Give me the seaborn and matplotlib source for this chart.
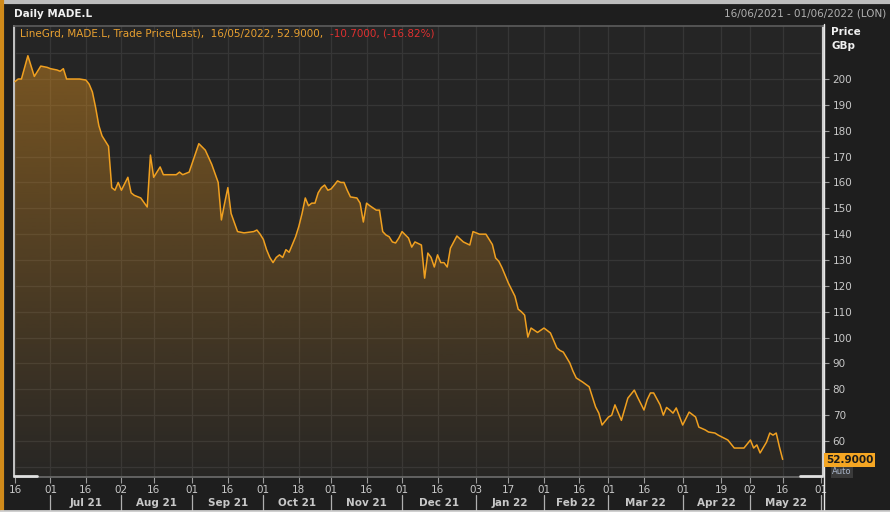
import numpy as np
import pandas as pd
import matplotlib
matplotlib.use("Agg")
import matplotlib.pyplot as plt
from matplotlib.lines import Line2D
import seaborn as sns

# ============================
# Data
# ============================

dates = [
    "2021-06-16", "2021-06-17", "2021-06-18", "2021-06-22", "2021-06-24", "2021-06-28", "2021-06-30",
    "2021-07-01", "2021-07-05", "2021-07-06", "2021-07-07", "2021-07-08", "2021-07-12", "2021-07-14",
    "2021-07-16", "2021-07-19", "2021-07-20", "2021-07-21", "2021-07-22", "2021-07-23", "2021-07-26",
    "2021-07-27", "2021-07-28", "2021-07-29", "2021-07-30",
    "2021-08-02", "2021-08-04", "2021-08-05", "2021-08-06", "2021-08-10", "2021-08-12", "2021-08-13",
    "2021-08-16", "2021-08-18", "2021-08-19", "2021-08-25", "2021-08-26", "2021-08-27", "2021-08-31",
    "2021-09-03", "2021-09-07", "2021-09-09", "2021-09-13", "2021-09-14", "2021-09-15", "2021-09-16",
    "2021-09-17", "2021-09-21", "2021-09-23", "2021-09-28", "2021-09-29", "2021-09-30",
    "2021-10-01", "2021-10-04", "2021-10-05", "2021-10-06", "2021-10-07", "2021-10-08", "2021-10-11",
    "2021-10-12", "2021-10-13", "2021-10-14", "2021-10-15", "2021-10-18", "2021-10-19", "2021-10-20",
    "2021-10-21", "2021-10-22", "2021-10-25", "2021-10-26", "2021-10-27", "2021-10-28", "2021-10-29",
    "2021-11-01", "2021-11-02", "2021-11-03", "2021-11-04", "2021-11-05", "2021-11-08", "2021-11-09",
    "2021-11-11", "2021-11-12", "2021-11-15", "2021-11-16", "2021-11-17", "2021-11-19", "2021-11-22",
    "2021-11-23", "2021-11-24", "2021-11-25", "2021-11-26", "2021-11-29", "2021-11-30",
    "2021-12-01", "2021-12-03", "2021-12-06", "2021-12-07", "2021-12-09", "2021-12-10", "2021-12-13",
    "2021-12-14", "2021-12-15", "2021-12-16", "2021-12-17", "2021-12-20", "2021-12-21", "2021-12-22",
    "2021-12-24", "2021-12-28", "2021-12-30", "2021-12-31",
    "2022-01-04", "2022-01-06", "2022-01-10", "2022-01-11", "2022-01-12", "2022-01-13", "2022-01-14",
    "2022-01-17", "2022-01-19", "2022-01-20", "2022-01-21", "2022-01-24", "2022-01-25", "2022-01-26",
    "2022-01-28",
    "2022-02-01", "2022-02-03", "2022-02-07", "2022-02-08", "2022-02-09", "2022-02-11", "2022-02-14",
    "2022-02-15", "2022-02-17", "2022-02-21", "2022-02-23", "2022-02-24", "2022-02-25",
    "2022-03-01", "2022-03-02", "2022-03-03", "2022-03-07", "2022-03-09", "2022-03-11", "2022-03-14",
    "2022-03-16", "2022-03-17", "2022-03-18", "2022-03-21", "2022-03-23", "2022-03-24", "2022-03-25",
    "2022-03-28", "2022-03-29", "2022-03-30",
    "2022-04-01", "2022-04-05", "2022-04-07", "2022-04-08", "2022-04-12", "2022-04-13", "2022-04-15",
    "2022-04-18", "2022-04-21", "2022-04-25", "2022-04-28",
    "2022-05-02", "2022-05-03", "2022-05-04", "2022-05-05", "2022-05-09", "2022-05-10", "2022-05-11",
    "2022-05-12", "2022-05-13", "2022-05-16",
]

prices = [
    199, 200, 200, 209, 201, 205, 204.5,
    204, 203.5, 203, 204, 200, 200, 200,
    199.6, 198, 195, 189, 182, 178, 176,
    174, 158, 157, 160,
    157, 162, 156, 155, 154, 150.5, 170.6,
    162, 166, 163, 163, 164, 163, 164,
    175, 172.5, 167, 160, 145.5, 152, 158,
    148, 141, 140.5, 141, 141.6, 140,
    138, 134, 131, 129, 131, 132, 131,
    134, 133, 136, 139, 143, 148, 154,
    151, 152, 152, 156, 158, 159, 157,
    157.5, 159, 160.6, 160, 160, 157, 154.4,
    154, 152, 144.7, 152, 151, 149.3, 149.3,
    141, 139.7, 139, 137, 136.6, 138.5,
    141, 138.5, 135, 137, 135.8, 123, 132.7,
    131, 127.3, 132, 129, 129, 127.3, 134.6,
    139.3, 137, 135.8, 141,
    140, 140, 136, 130.8, 129.5, 127, 124,
    121, 116, 111, 110, 108.7, 100.2, 103.7,
    102,
    103.7, 101.8, 96, 95, 94.4, 90.2, 87,
    84.4, 82.8, 81, 73.2, 70.8, 66.2,
    69.3, 70, 74, 68, 76.6, 79.7, 77,
    72, 76, 78.6, 78.6, 74, 70, 73,
    72, 70.8, 72.8,
    66.2, 71.2, 69.3, 65.4, 64.3, 63.5, 63.1,
    62.3, 60.4, 57.3, 57.3,
    60.4, 57.3, 58.5, 55.4, 59.6, 63.1, 62.3,
    63.1, 57.7, 52.9,
]

tick_dates = [
    "2021-06-16", "2021-07-01", "2021-07-16", "2021-08-02", "2021-08-16", "2021-09-01",
    "2021-09-16", "2021-10-01", "2021-10-18", "2021-11-01", "2021-11-16", "2021-12-01",
    "2021-12-16", "2022-01-03", "2022-01-17", "2022-02-01", "2022-02-16", "2022-03-01",
    "2022-03-16", "2022-04-01", "2022-04-19", "2022-05-02", "2022-05-16", "2022-06-01",
]
tick_labels = ["16", "01", "16", "02", "16", "01", "16", "01", "18", "01", "16", "01",
               "16", "03", "17", "01", "16", "01", "16", "01", "19", "02", "16", "01"]

month_starts = ["2021-07-01", "2021-08-02", "2021-09-01", "2021-10-01", "2021-11-01",
                "2021-12-01", "2022-01-03", "2022-02-01", "2022-03-01", "2022-04-01",
                "2022-05-02", "2022-06-01"]
month_labels = ["Jul 21", "Aug 21", "Sep 21", "Oct 21", "Nov 21", "Dec 21",
                "Jan 22", "Feb 22", "Mar 22", "Apr 22", "May 22"]

y_ticks = [60, 70, 80, 90, 100, 110, 120, 130, 140, 150, 160, 170, 180, 190, 200]

START = "2021-06-16"
ORANGE = "#f0a020"
TEXT = "#c8c8c8"
W, H = 890, 512


def bday(d):
    """Trading-day position (weekdays since start)."""
    return np.busday_count(START, np.array(d, dtype="datetime64[D]"))


def main():
    sns.set_theme(style="dark", rc={
        "figure.facecolor": "#1e1e1e",
        "axes.facecolor": "#252525",
        "axes.edgecolor": "#8a8a8a",
        "grid.color": "#363636",
        "xtick.color": "#9a9a9a",
        "ytick.color": "#9a9a9a",
    })
    plt.rcParams["font.family"] = ["DejaVu Sans"]

    df = pd.DataFrame({"x": bday(dates), "price": prices})

    fig = plt.figure(figsize=(W / 100, H / 100), dpi=100)
    ax = fig.add_axes([14 / W, 1 - 477 / H, 809 / W, 451 / H])

    ax.set_xlim(-0.3, 250.5)
    ax.set_ylim(46.1, 220.5)

    # gradient fill under the line
    poly = ax.fill_between(df["x"], df["price"], 0, color="none", lw=0)
    grad = np.zeros((256, 1, 4))
    grad[:, 0, :3] = matplotlib.colors.to_rgb("#e8961e")
    yy = np.linspace(220.5, 46.1, 256)
    grad[:, 0, 3] = np.clip(0.016 + (yy - 47) * 0.00256, 0, 1)
    im = ax.imshow(grad, extent=[-0.3, 250.5, 46.1, 220.5], aspect="auto", zorder=1)
    im.set_clip_path(poly.get_paths()[0], transform=ax.transData)

    sns.lineplot(data=df, x="x", y="price", ax=ax, color=ORANGE, lw=1.1, zorder=3)

    # axes / grid
    ax.set_xlabel("")
    ax.set_ylabel("")
    ax.set_xticks(bday(tick_dates))
    ax.set_xticklabels(tick_labels)
    ax.set_yticks(y_ticks)
    ax.set_yticklabels([str(v) for v in y_ticks])
    for lab in ax.get_yticklabels():
        if lab.get_text() in ("200", "100"):
            lab.set_fontweight("bold")
            lab.set_color("#e0e0e0")
    ax.set_yticks([50, 210], minor=True)
    ax.grid(True, which="both", color="#363636", lw=0.9)
    ax.yaxis.tick_right()
    ax.tick_params(axis="y", which="major", direction="out", length=4, width=0.8, pad=3,
                   labelsize=7.5, labelcolor=TEXT, right=True, left=False)
    ax.tick_params(axis="y", which="minor", length=0)
    ax.tick_params(axis="x", direction="out", length=4, width=0.8, pad=2,
                   labelsize=7.5, labelcolor=TEXT, bottom=True)

    for side in ("left", "right", "top", "bottom"):
        ax.spines[side].set_visible(True)
    ax.spines["left"].set_color("#d8d8d8")
    ax.spines["right"].set_color("#e8e8e8")
    ax.spines["top"].set_color("#5a5a5a")
    ax.spines["bottom"].set_color("#6a6a6a")

    # month row with dividers
    xt = ax.get_xaxis_transform()
    ms = bday(month_starts)
    for m in ms[:-1]:
        ax.plot([m, m], [-0.04, -0.08], transform=xt, color="#b0b0b0", lw=0.9, clip_on=False)
    ax.plot([ms[-1], ms[-1]], [-0.04, -0.08], transform=xt, color="#b0b0b0", lw=0.9, clip_on=False)
    for a, b, lab in zip(ms[:-1], ms[1:], month_labels):
        ax.text((a + b) / 2, -0.058, lab, transform=xt, ha="center", va="center",
                fontsize=7.5, fontweight="bold", color=TEXT)

    # frame decorations
    fig.add_artist(Line2D([824 / W, 824 / W], [0, 1 - 24 / H], color="#e8e8e8", lw=1))
    fig.add_artist(Line2D([0, 1], [1 - 1.5 / H, 1 - 1.5 / H], color="#bdbdbd", lw=3))
    fig.add_artist(Line2D([1.5 / W, 1.5 / W], [0, 1], color="#d08a1a", lw=3))
    fig.add_artist(Line2D([0, 1], [1.5 / H, 1.5 / H], color="#d0d0d0", lw=2))
    fig.add_artist(Line2D([14 / W, 37 / W], [1 - 476 / H, 1 - 476 / H], color="#e0e0e0", lw=2))
    fig.add_artist(Line2D([800 / W, 822 / W], [1 - 476 / H, 1 - 476 / H], color="#e0e0e0", lw=2))

    # header texts
    fig.text(14 / W, 1 - 14 / H, "Daily MADE.L", color="#f0f0f0", fontsize=7.5,
             fontweight="bold", va="center", ha="left")
    fig.text(886 / W, 1 - 14 / H, "16/06/2021 - 01/06/2022 (LON)", color="#b0b0b0",
             fontsize=7.5, va="center", ha="right")
    fig.text(20 / W, 1 - 34 / H, "LineGrd, MADE.L, Trade Price(Last),  16/05/2022, 52.9000,",
             color="#e8a030", fontsize=7.5, va="center", ha="left")
    fig.text(330 / W, 1 - 34 / H, "-10.7000, (-16.82%)", color="#e03030",
             fontsize=7.5, va="center", ha="left")
    fig.text(831 / W, 1 - 32 / H, "Price", color="#f0f0f0", fontsize=7.5,
             fontweight="bold", va="center", ha="left")
    fig.text(831 / W, 1 - 46 / H, "GBp", color="#f0f0f0", fontsize=7.5,
             fontweight="bold", va="center", ha="left")

    # last value box
    fig.text(832 / W, 1 - 472 / H, "Auto", color="#a8b4c8", fontsize=6, va="center", ha="left",
             bbox=dict(facecolor="#3a3a3a", edgecolor="none", pad=0.8))
    fig.text(826 / W, 1 - 460 / H, "52.9000", color="#1a1a1a", fontsize=7.5, fontweight="bold",
             va="center", ha="left",
             bbox=dict(facecolor="#f5a623", edgecolor="none", boxstyle="square,pad=0.2"))

    plt.savefig("out.png", dpi=100)
    plt.close()


if __name__ == "__main__":
    main()
